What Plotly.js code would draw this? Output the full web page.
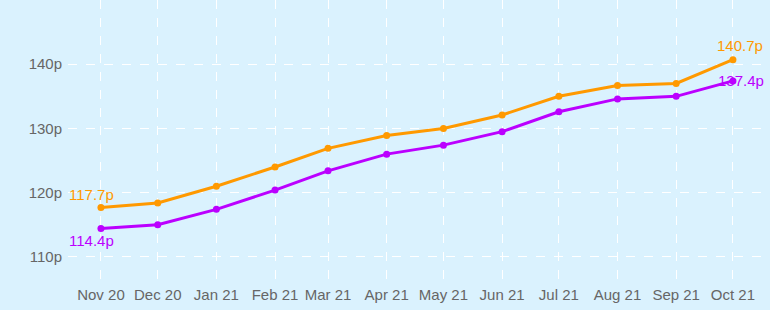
<!DOCTYPE html>
<html>
<head>
<meta charset="utf-8">
<script src="https://cdn.plot.ly/plotly-3.0.1.min.js"></script>
<style>html,body{margin:0;padding:0;background:#daf2fe;}#chart{width:770px;height:310px;}</style>
</head>
<body>
<div id="chart"></div>
<script>
const months = ['2020-11-01','2020-12-01','2021-01-01','2021-02-01','2021-03-01','2021-04-01','2021-05-01','2021-06-01','2021-07-01','2021-08-01','2021-09-01','2021-10-01'];
const seriesOrange = [117.7, 118.4, 121.0, 124.0, 126.9, 128.9, 130.0, 132.1, 135.0, 136.7, 137.0, 140.7];
const seriesPurple = [114.4, 115.0, 117.4, 120.4, 123.4, 126.0, 127.4, 129.5, 132.6, 134.6, 135.0, 137.4];
const yTickVals = [110, 120, 130, 140];
const yTickText = ['110p', '120p', '130p', '140p'];
const orange = '#ff9900';
const purple = '#bb00ff';
const last = months.length - 1;

const traces = [
  {x: months, y: seriesOrange, type: 'scatter', mode: 'lines+markers',
   line: {color: orange, width: 3}, marker: {color: orange, size: 7}, hoverinfo: 'skip'},
  {x: months, y: seriesPurple, type: 'scatter', mode: 'lines+markers',
   line: {color: purple, width: 3}, marker: {color: purple, size: 7}, hoverinfo: 'skip'}
];

function ann(i, arr, color, xs, ys) {
  return {x: months[i], y: arr[i], xref: 'x', yref: 'y', text: arr[i].toFixed(1) + 'p',
    showarrow: false, xshift: xs, yshift: ys, font: {family: 'Liberation Sans, Arial', size: 15, color: color}};
}

const layout = {
  width: 770, height: 310,
  margin: {l: 68, r: 0, t: 0, b: 30},
  paper_bgcolor: '#daf2fe', plot_bgcolor: '#daf2fe',
  showlegend: false,
  font: {family: 'Liberation Sans, Arial', size: 15, color: '#666666'},
  xaxis: {type: 'date', range: ['2020-10-14 14:00', '2021-10-20 14:00'],
    tickmode: 'linear', tick0: '2020-11-01', dtick: 'M1', tickformat: '%b %y',
    showgrid: true, gridcolor: '#ffffff', griddash: 'dash', gridwidth: 1,
    zeroline: false, showline: false, ticks: '', ticklabelstandoff: 4},
  yaxis: {range: [106.4, 150], tickmode: 'array', tickvals: yTickVals, ticktext: yTickText,
    showgrid: true, gridcolor: '#ffffff', griddash: 'dash', gridwidth: 1,
    zeroline: false, showline: false, ticks: '', ticklabelstandoff: 5},
  annotations: [
    ann(0, seriesOrange, orange, -9, 13),
    ann(0, seriesPurple, purple, -9, -12),
    ann(last, seriesOrange, orange, 7, 14),
    ann(last, seriesPurple, purple, 8, 0)
  ]
};

Plotly.newPlot('chart', traces, layout, {displayModeBar: false, staticPlot: true});
</script>
</body>
</html>
